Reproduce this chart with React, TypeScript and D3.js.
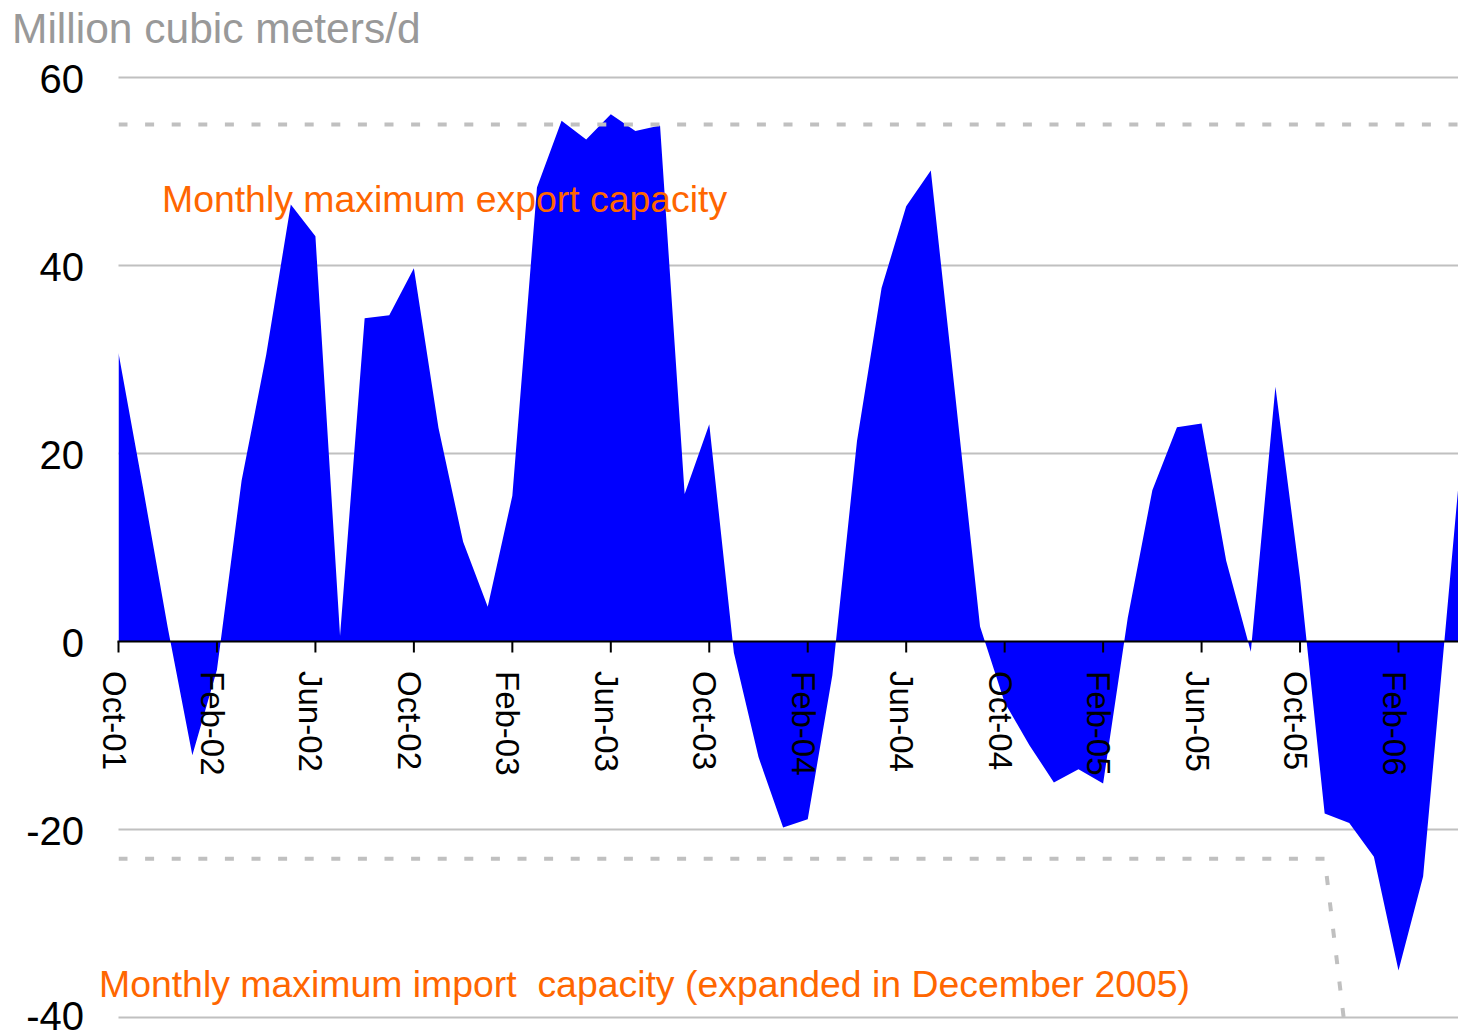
import React, { useEffect, useRef } from 'react';
import * as d3 from 'd3';

const W = 1458;
const H = 1032;
const FONT = '"Liberation Sans", Arial, sans-serif';

// monthly categories Oct-01 .. May-06
const months = d3
  .timeMonth.range(new Date(2001, 9, 1), new Date(2006, 5, 1))
  .map(d3.timeFormat('%b-%y'));

// net export (+) / import (-) flow, million m3/d
const netFlow = [
  30.7, 16.3, 1.5, -12.1, -3, 17.1, 30.5, 46.5, 43.1, 0.6,
  34.4, 34.7, 39.7, 22.7, 10.6, 3.7, 15.5, 48.3, 55.4, 53.4,
  56.1, 54.3, 54.9, 15.7, 23.1, -1.2, -12.3, -19.8, -18.9, -3.6,
  21.3, 37.6, 46.3, 50.1, 26, 1.6, -6.5, -11, -15, -13.6,
  -15.1, 2.5, 16.1, 22.8, 23.2, 8.6, -1.1, 27.1, 6.7, -18.3,
  -19.3, -22.9, -35, -25, 4, 33,
];

const exportCapacity: [string, number][] = [
  ['Oct-01', 55],
  ['May-06', 55],
];
const importCapacity: [string, number][] = [
  ['Oct-01', -23.1],
  ['Nov-05', -23.1],
  ['Dec-05', -45],
  ['May-06', -45],
];

const tickLabels = [
  'Oct-01', 'Feb-02', 'Jun-02', 'Oct-02', 'Feb-03', 'Jun-03', 'Oct-03',
  'Feb-04', 'Jun-04', 'Oct-04', 'Feb-05', 'Jun-05', 'Oct-05', 'Feb-06',
];
const yTicks = [-40, -20, 0, 20, 40, 60];

const Chart = () => {
  const ref = useRef<SVGSVGElement>(null);

  useEffect(() => {
    const svg = d3.select(ref.current);
    svg.selectAll('*').remove();

    const left = 118.5;
    const right = W;

    const x = d3.scaleLinear().domain([0, 52]).range([118.5, 1398.5]);
    const xi = (m: string) => x(months.indexOf(m));
    const y = d3.scaleLinear().domain([-40, 60]).range([1017.5, 77.5]);

    svg
      .append('defs')
      .append('clipPath')
      .attr('id', 'plot-clip')
      .append('rect')
      .attr('x', left)
      .attr('y', 0)
      .attr('width', right - left)
      .attr('height', H);

    // gridlines
    svg
      .append('g')
      .selectAll('line')
      .data(yTicks.filter(d => d !== 0))
      .enter()
      .append('line')
      .attr('x1', left)
      .attr('x2', right)
      .attr('y1', d => y(d))
      .attr('y2', d => y(d))
      .attr('stroke', '#c0c0c0')
      .attr('stroke-width', 2);

    // area
    const area = d3
      .area<number>()
      .x((_, i) => x(i))
      .y0(y(0))
      .y1(d => y(d));

    svg
      .append('path')
      .datum(netFlow)
      .attr('clip-path', 'url(#plot-clip)')
      .attr('d', area)
      .attr('fill', '#0000ff');

    // capacity lines
    const capLine = d3
      .line<[string, number]>()
      .x(d => xi(d[0]))
      .y(d => y(d[1]));

    [exportCapacity, importCapacity].forEach(pts => {
      svg
        .append('path')
        .datum(pts)
        .attr('clip-path', 'url(#plot-clip)')
        .attr('d', capLine)
        .attr('fill', 'none')
        .attr('stroke', '#c0c0c0')
        .attr('stroke-width', 4)
        .attr('stroke-dasharray', '9 17.6');
    });

    // zero axis + ticks
    svg
      .append('line')
      .attr('x1', left - 1)
      .attr('x2', right)
      .attr('y1', y(0))
      .attr('y2', y(0))
      .attr('stroke', '#000')
      .attr('stroke-width', 2);

    const ticks = svg.append('g');
    ticks
      .selectAll('line')
      .data(tickLabels)
      .enter()
      .append('line')
      .attr('x1', d => xi(d))
      .attr('x2', d => xi(d))
      .attr('y1', y(0))
      .attr('y2', y(0) + 11)
      .attr('stroke', '#000')
      .attr('stroke-width', 2);

    ticks
      .selectAll('text')
      .data(tickLabels)
      .enter()
      .append('text')
      .attr('transform', d => `translate(${xi(d)}, 671) rotate(90)`)
      .attr('y', 16)
      .attr('text-anchor', 'start')
      .style('font-family', FONT)
      .style('font-size', '33px')
      .style('fill', '#000')
      .text(d => d);

    // y labels (lowest one nudged up so it stays on the page)
    svg
      .append('g')
      .selectAll('text')
      .data(yTicks)
      .enter()
      .append('text')
      .attr('x', 84)
      .attr('y', d => Math.min(y(d) + 15, H - 2))
      .attr('text-anchor', 'end')
      .style('font-family', FONT)
      .style('font-size', '40px')
      .style('fill', '#000')
      .text(d => d);

    // title
    svg
      .append('text')
      .attr('x', 12)
      .attr('y', 43)
      .style('font-family', FONT)
      .style('font-size', '42.5px')
      .style('fill', '#999999')
      .text('Million cubic meters/d');

    // annotations
    svg
      .append('text')
      .attr('x', 162)
      .attr('y', 212)
      .style('font-family', FONT)
      .style('font-size', '37.4px')
      .style('fill', '#ff6600')
      .text('Monthly maximum export capacity');

    svg
      .append('text')
      .attr('x', 99)
      .attr('y', 997)
      .style('font-family', FONT)
      .style('font-size', '37.4px')
      .style('fill', '#ff6600')
      .style('white-space', 'pre')
      .text('Monthly maximum import  capacity (expanded in December 2005)');
  }, []);

  return (
    <svg
      ref={ref}
      width={W}
      height={H}
      style={{ position: 'absolute', left: 0, top: 0, background: '#fff' }}
    />
  );
};

export default function App() {
  return <Chart />;
}
